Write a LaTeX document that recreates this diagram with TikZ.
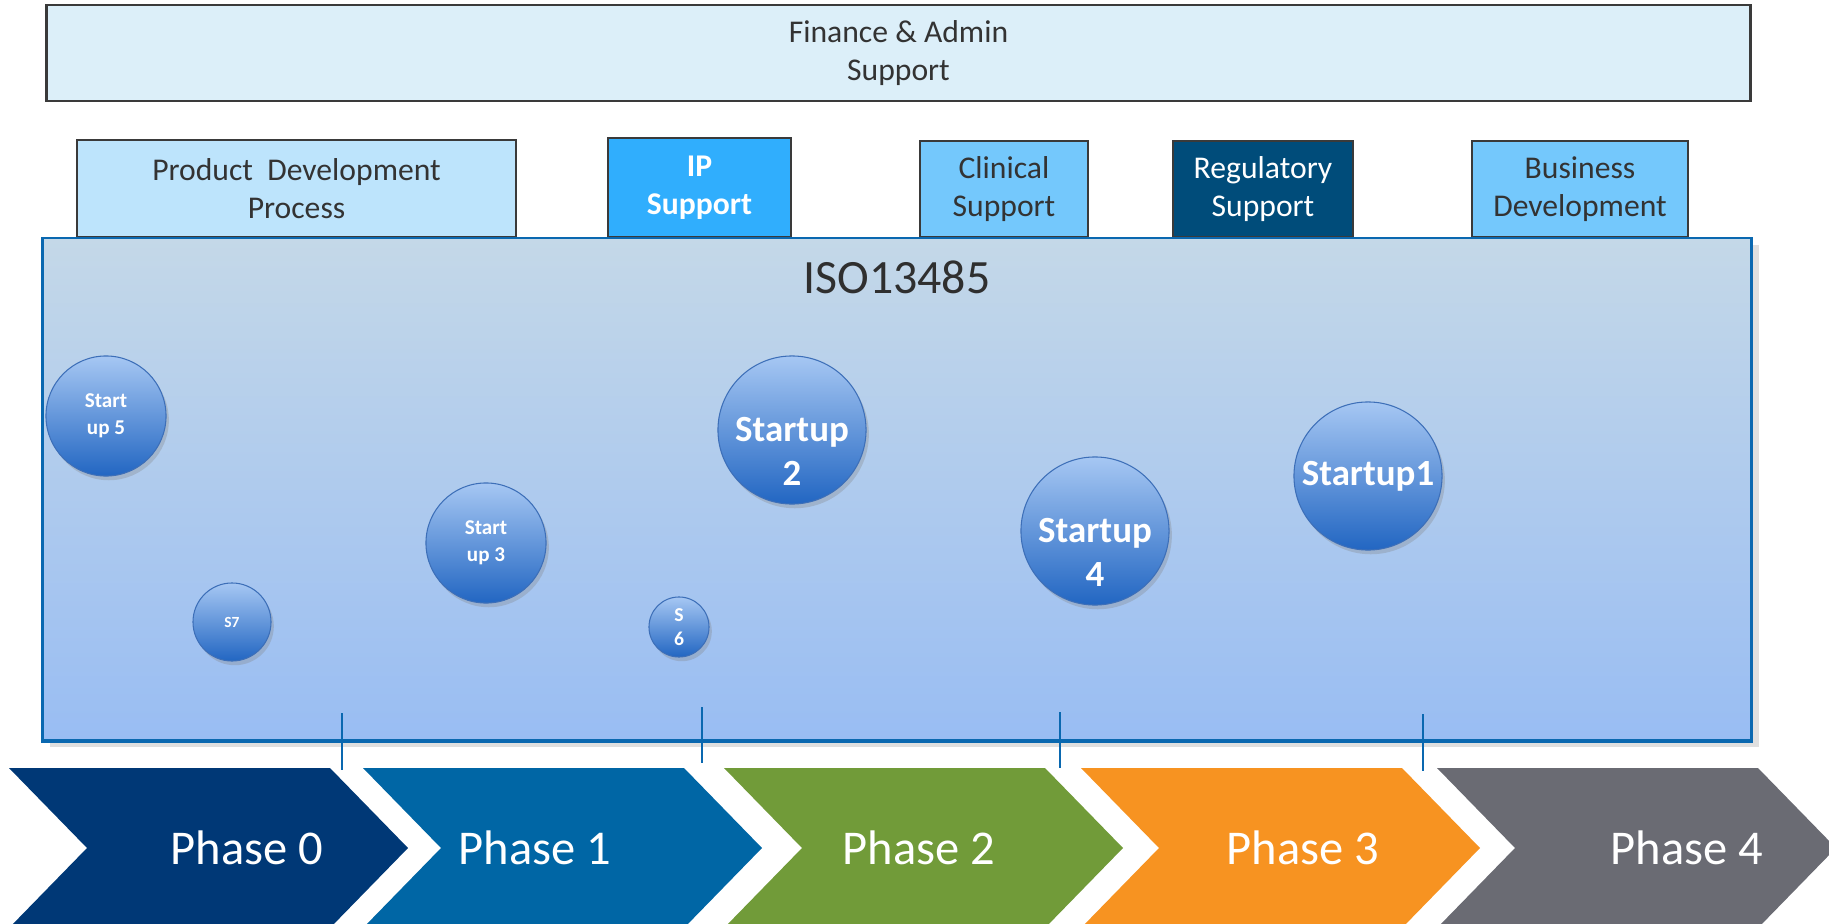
\documentclass[tikz,border=0pt]{standalone}
\usepackage{fontspec}
\setmainfont{Carlito}
\usetikzlibrary{shadows}

\definecolor{boxline}{HTML}{3A3A3A}
\definecolor{boxtext}{HTML}{333333}
\definecolor{financefill}{HTML}{DCEFF9}
\definecolor{pdpfill}{HTML}{BDE4FC}
\definecolor{ipfill}{HTML}{30AEFD}
\definecolor{lightfill}{HTML}{74C8FC}
\definecolor{regfill}{HTML}{004C7A}
\definecolor{isoline}{HTML}{0A68B0}
\definecolor{isotop}{HTML}{C4D8E8}
\definecolor{isomid}{HTML}{C0D6EA}
\definecolor{isobot}{HTML}{99BDF3}
\definecolor{isotext}{HTML}{2F2F2F}
\definecolor{bubtop}{HTML}{A6C7F3}
\definecolor{bubbot}{HTML}{2266C2}
\definecolor{bubedge}{HTML}{3D6FB8}
\definecolor{ph0}{HTML}{003876}
\definecolor{ph1}{HTML}{0066A5}
\definecolor{ph2}{HTML}{719B39}
\definecolor{ph3}{HTML}{F79321}
\definecolor{ph4}{HTML}{6A6B73}

\tikzset{
    unitbox/.style={draw=boxline, line width=0.6pt, align=center, inner sep=0pt,
        text=boxtext, font=\fontsize{9}{10.9}\selectfont},
    bubble/.style={circle, inner sep=0pt, align=center, text=white,
        top color=bubtop, bottom color=bubbot, draw=bubedge, line width=0.3pt,
        drop shadow={opacity=0.3, shadow xshift=0.8pt, shadow yshift=-1.2pt}},
    bigbubble/.style={bubble, minimum size=1.48cm, font=\bfseries\fontsize{10.5}{12.5}\selectfont},
    midbubble/.style={bubble, minimum size=1.2cm, font=\bfseries\fontsize{6}{7.7}\selectfont},
    bubtext/.style={text=white, align=center, font=\bfseries\fontsize{10.5}{12.5}\selectfont},
    phase/.style={text=white, font=\fontsize{13.8}{16}\selectfont},
    phasetick/.style={draw=isoline, line width=0.6pt},
}

\begin{document}
\begin{tikzpicture}[x=0.01cm, y=-0.01cm]
    \useasboundingbox (0,0) rectangle (1829,924);
    \clip (0,0) rectangle (1829,924);

    % support units
    \node[unitbox, fill=financefill, minimum width=17.03cm, minimum height=0.96cm] (finance) at (898.5,53) {Finance \& Admin\\Support};
    \node[unitbox, fill=pdpfill, minimum width=4.39cm, minimum height=0.97cm] (pdp) at (296.5,188.5) {Product\ \ Development\\Process};
    \node[unitbox, fill=ipfill, text=white, font=\bfseries\fontsize{9}{10.9}\selectfont, minimum width=1.83cm, minimum height=0.99cm] (ip) at (699.5,187.5) {IP\\Support};
    \node[unitbox, fill=lightfill, minimum width=1.68cm, minimum height=0.96cm] (clinical) at (1004,189) {Clinical\\Support};
    \node[unitbox, fill=regfill, text=white, minimum width=1.80cm, minimum height=0.96cm] (regulatory) at (1263,189) {Regulatory\\Support};
    \node[unitbox, fill=lightfill, minimum width=2.16cm, minimum height=0.96cm] (business) at (1580,189) {Business\\Development};

    % quality system
    \node[draw=isoline, line width=0.6pt, top color=isotop, middle color=isomid, bottom color=isobot,
        minimum width=17.08cm, minimum height=5.02cm, inner sep=0pt,
        drop shadow={opacity=0.25, shadow xshift=2pt, shadow yshift=-2pt}] (iso) at (897,489) {};
    \draw[isoline, line width=1.2pt] (iso.south west) -- (iso.south east);
    \node[text=isotext, font=\fontsize{13.6}{16}\selectfont] (isotitle) at (897,277) {ISO13485};

    % startups
    \node[midbubble] (su5) at (106,416) {Start\\up 5};
    \node[bubble, minimum size=0.78cm, font=\bfseries\fontsize{4.4}{5.5}\selectfont] (s7) at (232,622) {S7};
    \node[midbubble] (su3) at (486,543) {Start\\up 3};
    \node[bubble, minimum size=0.6cm, font=\bfseries\fontsize{5.6}{7}\selectfont] (s6) at (679,627) {S\\6};
    \node[bigbubble, label={[bubtext, yshift=-0.21cm]center:Startup\\2}] (su2) at (792,430) {};
    \node[bigbubble, label={[bubtext, yshift=-0.21cm]center:Startup\\4}] (su4) at (1095,531) {};
    \node[bigbubble] (su1) at (1368,476) {Startup1};

    % phase ticks
    \foreach \x/\ya/\yb in {342/713/770, 702/707/763, 1060/712/768, 1423/714/771}
        \draw[phasetick] (\x,\ya) -- (\x,\yb);

    % phases
    \foreach \L/\col in {9/ph0, 363/ph1, 724/ph2, 1081/ph3, 1437/ph4}
        \fill[\col] (\L,768) -- ++(321,0) -- ++(78,80) -- ++(-78,80) -- ++(-321,0) -- ++(78,-80) -- cycle;
    \foreach \x/\n in {247/0, 535/1, 919/2, 1303/3, 1687/4}
        \node[phase] (phase\n) at (\x,848) {Phase \n};
\end{tikzpicture}
\end{document}
